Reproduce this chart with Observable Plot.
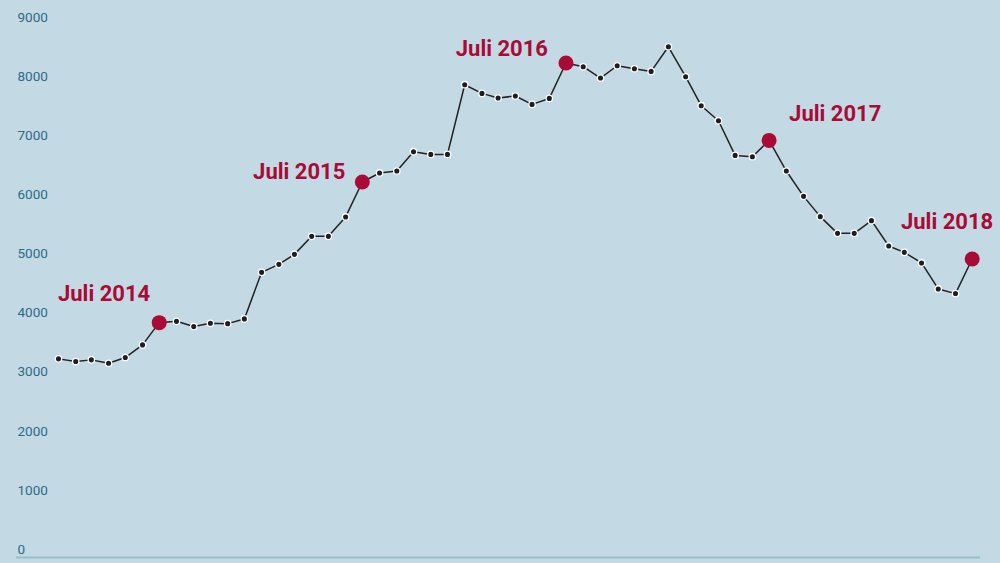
<!DOCTYPE html>
<html>
<head>
<meta charset="utf-8">
<script src="https://cdn.jsdelivr.net/npm/d3@7"></script>
<script src="https://cdn.jsdelivr.net/npm/@observablehq/plot@0.6"></script>
<style>
  html, body { margin: 0; padding: 0; background: #c3d9e4; }
  #chart svg { display: block; }
</style>
</head>
<body>
<div id="chart"></div>
<script>
// Monthly series, January 2014 – July 2018
const months = [
  "2014-01","2014-02","2014-03","2014-04","2014-05","2014-06","2014-07","2014-08","2014-09","2014-10","2014-11","2014-12",
  "2015-01","2015-02","2015-03","2015-04","2015-05","2015-06","2015-07","2015-08","2015-09","2015-10","2015-11","2015-12",
  "2016-01","2016-02","2016-03","2016-04","2016-05","2016-06","2016-07","2016-08","2016-09","2016-10","2016-11","2016-12",
  "2017-01","2017-02","2017-03","2017-04","2017-05","2017-06","2017-07","2017-08","2017-09","2017-10","2017-11","2017-12",
  "2018-01","2018-02","2018-03","2018-04","2018-05","2018-06","2018-07"
];
const values = [
  3225, 3180, 3208, 3150, 3247, 3461, 3838, 3860, 3771, 3827, 3821, 3901,
  4689, 4824, 4993, 5298, 5298, 5626, 6217, 6370, 6403, 6730, 6684, 6684,
  7863, 7716, 7638, 7672, 7530, 7631, 8230, 8167, 7976, 8184, 8133, 8088,
  8505, 7998, 7508, 7254, 6667, 6645, 6921, 6403, 5974, 5631, 5348, 5348,
  5563, 5135, 5027, 4848, 4408, 4329, 4915
];
const highlightMonths = ["2014-07", "2015-07", "2016-07", "2017-07", "2018-07"];
const highlightLabels = ["Juli 2014", "Juli 2015", "Juli 2016", "Juli 2017", "Juli 2018"];
const yTicks = [0, 1000, 2000, 3000, 4000, 5000, 6000, 7000, 8000, 9000];

const parse = d3.utcParse("%Y-%m");
const data = months.map((m, i) => ({date: parse(m), value: values[i]}));
const highlights = highlightMonths.map((m, i) => ({
  date: parse(m),
  value: values[months.indexOf(m)],
  label: highlightLabels[i]
}));

const red = "#a90a36";
const labelStyle = {fill: red, fontSize: 22, fontWeight: 700, fontFamily: "Roboto"};

function label(i, opts) {
  return Plot.text([highlights[i]], {x: "date", y: "value", text: "label", ...labelStyle, ...opts});
}

const chart = Plot.plot({
  width: 1000,
  height: 563,
  marginTop: 17,
  marginBottom: 14,
  marginLeft: 16,
  marginRight: 20,
  style: {background: "#c3d9e4", fontFamily: "Roboto", overflow: "visible"},
  x: {type: "utc", domain: [data[0].date, data[data.length - 1].date], insetLeft: 42, insetRight: 8.3, axis: null},
  y: {domain: [0, 9000], axis: null},
  marks: [
    Plot.axisY(yTicks, {
      anchor: "left", tickSize: 0, tickPadding: 0, textAnchor: "start", dx: 1, label: null,
      fill: "#2b6b87", fontSize: 13.5, tickFormat: d => String(d)
    }),
    Plot.ruleY([0], {stroke: "#98bfcc", strokeWidth: 2, dy: 8}),
    Plot.line(data, {x: "date", y: "value", stroke: "#222", strokeWidth: 1.5}),
    Plot.dot(data, {x: "date", y: "value", r: 3.2, fill: "#1e1e1e", stroke: "white", strokeWidth: 1.3}),
    Plot.dot(highlights, {x: "date", y: "value", r: 7.5, fill: red, stroke: "none"}),
    label(0, {textAnchor: "end", dx: -9, dy: -29}),
    label(1, {textAnchor: "end", dx: -17, dy: -10}),
    label(2, {textAnchor: "end", dx: -18, dy: -14}),
    label(3, {textAnchor: "start", dx: 20, dy: -26}),
    label(4, {textAnchor: "end", dx: 21, dy: -37})
  ]
});
document.getElementById("chart").appendChild(chart);
</script>
</body>
</html>
